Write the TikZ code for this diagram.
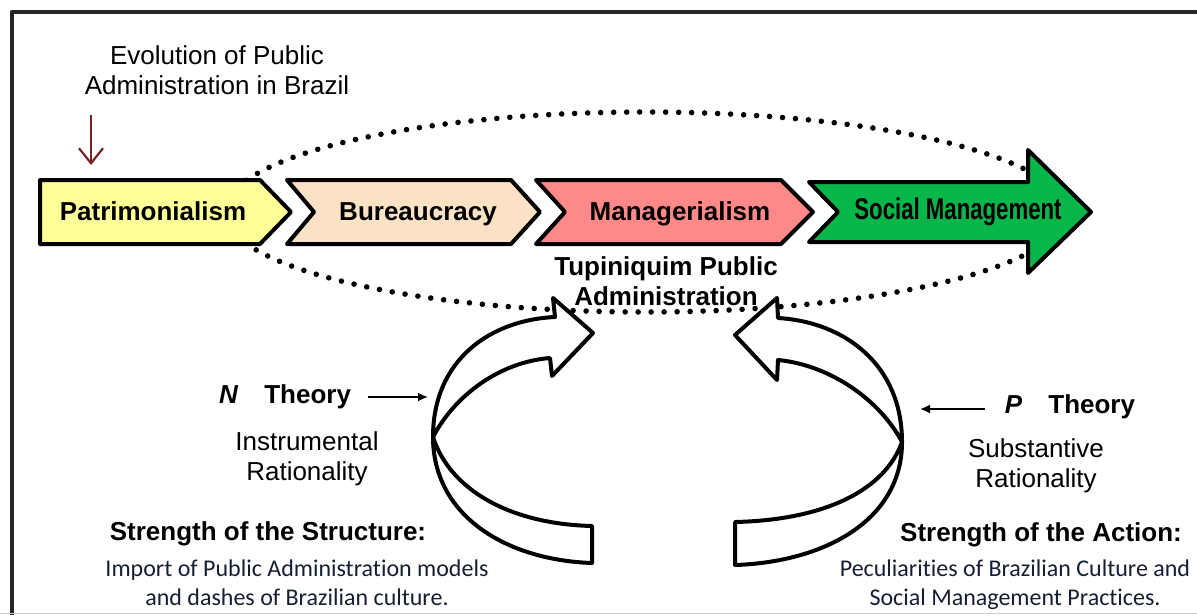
\documentclass[tikz,border=0pt]{standalone}
\usepackage{fontspec}
\setmainfont{Liberation Sans}
\newfontfamily\calibri{Carlito}[Ligatures=NoCommon]
\newfontfamily\narrowsans{Liberation Sans}[FakeStretch=0.74]
\usetikzlibrary{arrows.meta}

\definecolor{patyellow}{RGB}{255,255,153}
\definecolor{burpeach}{RGB}{251,226,196}
\definecolor{mansalmon}{RGB}{255,137,137}
\definecolor{socgreen}{RGB}{8,182,74}
\definecolor{evored}{RGB}{120,35,35}
\definecolor{notenavy}{RGB}{22,30,52}

\begin{document}
\begin{tikzpicture}[x=0.5pt, y=-0.5pt, line join=round,
  stage/.style={draw=black, line width=2pt},
  loop/.style={draw=black, fill=white, line width=2pt},
  label/.style={inner sep=0pt, anchor=base, align=center, font=\fontsize{13}{15}\selectfont},
  bold/.style={label, font=\fontsize{13}{15}\selectfont\bfseries},
  note/.style={inner sep=0pt, anchor=base, align=center, text=notenavy, font=\calibri\fontsize{12}{14.3}\selectfont},
  pointer/.style={-{Latex[length=5pt,width=4.5pt]}, line width=0.9pt}]
\useasboundingbox (0,0) rectangle (1197,615);

% frame
\draw[line width=2.25pt, black!85] (12,615) -- (12,12) -- (1197,12);
\draw[black!20, line width=0.5pt] (0,613) -- (1197,613);

% dotted ring round the stages
\draw[line width=2.8pt, line cap=round, dash pattern=on 0pt off 6.5pt] (645,212) ellipse [x radius=420, y radius=100];

% the four stages
\draw[stage, fill=patyellow] (40,180) -- (260,180) -- (291,212) -- (260,244) -- (40,244) -- cycle;
\draw[stage, fill=burpeach] (287,180) -- (511,180) -- (540,212) -- (511,244) -- (287,244) -- (314,212) -- cycle;
\draw[stage, fill=mansalmon] (536,180) -- (781,180) -- (813,212) -- (781,244) -- (536,244) -- (565,212) -- cycle;
\draw[stage, fill=socgreen] (809,182) -- (1028,182) -- (1028,150) -- (1091,212) -- (1028,273) -- (1028,242) -- (809,242) -- (838,212) -- cycle;

\node[bold] (patri) at (153,220) {Patrimonialism};
\node[bold] (bureau) at (418,220) {Bureaucracy};
\node[bold] (manag) at (680,220) {Managerialism};
\node[inner sep=0pt, anchor=base, font=\narrowsans\fontsize{15}{17}\selectfont\bfseries] (social) at (958,219) {Social Management};

% heading and its arrow (base = last line)
\node[label] (evolution) at (217,95) {Evolution of Public\\Administration in Brazil};
\coordinate (evotop) at (91,115);
\coordinate (evobot) at (91,165);
\draw[evored, line width=1.1pt, -{Straight Barb[length=7.5pt,width=12pt]}] (evotop) -- (evobot);

\node[bold] (tupi) at (666,305) {Tupiniquim Public\\Administration};

% the two turning arrows
\draw[loop] (592,563) .. controls (505,560) and (433,515) .. (433,437)
  .. controls (433,360) and (490,320) .. (555,317)
  -- (553,298) -- (593,333) -- (552,376) -- (550,358)
  .. controls (500,362) and (455,395) .. (433,437)
  .. controls (450,490) and (510,524) .. (592,526) -- cycle;
\draw[loop] (735,565) .. controls (825,562) and (902,520) .. (902,442)
  .. controls (902,365) and (845,322) .. (778,318)
  -- (777,298) -- (735,335) -- (777,380) -- (778,360)
  .. controls (830,365) and (880,400) .. (902,442)
  .. controls (885,490) and (825,520) .. (735,522) -- cycle;

% N side
\node[bold] (ntheory) at (285,403) {\textit{N}\quad Theory};
\coordinate (nhit) at (428,397);
\draw[pointer] (368,397) -- (nhit);
\node[label] (instrumental) at (307,480) {Instrumental\\Rationality};
\node[bold] (structure) at (268,540) {Strength of the Structure:};
\node[note] (import) at (297,605) {Import of Public Administration models\\and dashes of Brazilian culture.};

% P side
\node[bold] (ptheory) at (1070,413) {\textit{P}\quad Theory};
\coordinate (phit) at (920,409);
\draw[pointer] (985,409) -- (phit);
\node[label] (substantive) at (1036,487) {Substantive\\Rationality};
\node[bold] (action) at (1041,541) {Strength of the Action:};
\node[note] (peculiar) at (1015,605) {Peculiarities of Brazilian Culture and\\Social Management Practices.};
\end{tikzpicture}
\end{document}
